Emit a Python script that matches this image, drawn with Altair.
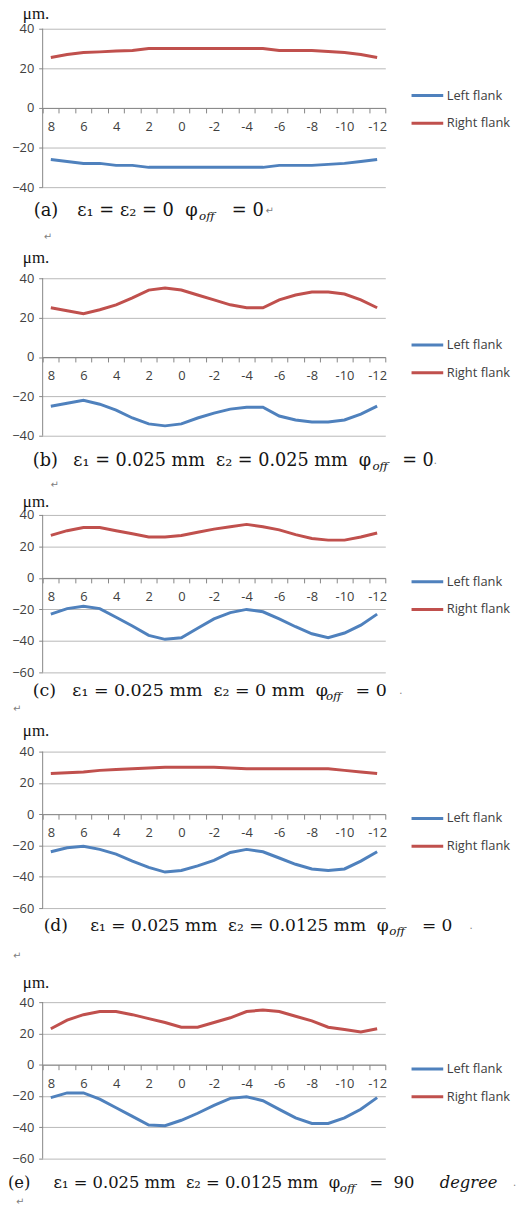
import altair as alt
import pandas as pd

positions = [8, 7, 6, 5, 4, 3, 2, 1, 0, -1, -2, -3, -4, -5, -6, -7, -8, -9, -10, -11, -12]
series_names = ["Left flank", "Right flank"]
series_colors = ["#4F81BD", "#C0504D"]

a_left = [-26, -27, -28, -28, -29, -29, -30, -30, -30, -30, -30, -30, -30, -30, -29, -29, -29, -28.5, -28, -27, -26]
a_right = [25.5, 27, 28, 28.3, 28.7, 29, 30, 30, 30, 30, 30, 30, 30, 30, 29, 29, 29, 28.5, 28, 27, 25.5]
b_left = [-25, -23.5, -22, -24, -27, -31, -34, -35, -34, -31, -28.5, -26.5, -25.5, -25.5, -30, -32, -33, -33, -32, -29, -25]
b_right = [25, 23.5, 22, 24, 26.5, 30, 34, 35, 34, 31.5, 29, 26.5, 25, 25, 29, 31.5, 33, 33, 32, 29, 25]
c_left = [-23, -19.5, -18, -19.5, -25, -30.5, -36.5, -39, -38, -32, -26, -22, -20, -21.5, -26, -31, -35.5, -38, -35, -30, -23]
c_right = [27, 30, 32, 32, 30, 28, 26, 26, 27, 29, 31, 32.5, 34, 32.5, 30.5, 27.5, 25, 24, 24, 26, 28.5]
d_left = [-24, -21.5, -20.5, -22.5, -25.5, -30, -34, -37, -36, -33, -29.5, -24.5, -22.5, -24, -28, -32, -35, -36, -35, -30, -24]
d_right = [26, 26.5, 27, 28, 28.5, 29, 29.5, 30, 30, 30, 30, 29.5, 29, 29, 29, 29, 29, 29, 28, 27, 26]
e_left = [-21, -18, -18, -22, -27.5, -33, -38.5, -39, -35.5, -31, -26, -21.5, -20.5, -23, -28.5, -34, -37.5, -37.5, -34, -28.5, -21]
e_right = [23, 28.5, 32, 34, 34, 32, 29.5, 27, 24, 24, 27, 30, 34, 35, 34, 31, 28, 24, 22.5, 21, 23]

y_ticks_a = [40, 20, 0, -20, -40]
y_ticks_c = [40, 20, 0, -20, -40, -60]

NB = "\u00a0"
# caption pieces: (text, kind)  n = normal, i = italic, s = subscript, p = paragraph mark
cap_a = [("(a)", "n"), ("ε₁ = ε₂ = 0" + NB + " φ", "n"), ("off", "s"), ("= 0", "n"), ("↵", "p")]
cap_b = [("(b)", "n"), ("ε₁ = 0.025 mm" + NB + " ε₂ = 0.025 mm" + NB + " φ", "n"), ("off", "s"), ("= 0", "n"), (".", "p")]
cap_c = [("(c)", "n"), ("ε₁ = 0.025 mm" + NB + " ε₂ = 0 mm" + NB + " φ", "n"), ("off", "s"), ("= 0", "n"), (".", "p")]
cap_d = [("(d)", "n"), ("ε₁ = 0.025 mm" + NB + " ε₂ = 0.0125 mm" + NB + " φ", "n"), ("off", "s"), ("= 0", "n"), (".", "p")]
cap_e = [("(e)", "n"), ("ε₁ = 0.025 mm" + NB + " ε₂ = 0.0125 mm" + NB + " φ", "n"), ("off", "s"), ("=" + NB + NB + "90", "n"), ("degree", "i"), (".", "p")]

AXIS_COLOR = "#868686"
GRID_COLOR = "#b8b8b8"
LABEL_COLOR = "#404040"
MARK_COLOR = "#808080"
SANS = "Open Sans"
SERIF = "DejaVu Serif"
PLOT_W = 346
PLOT_LEFT = 42  # page x of the plot's left edge in the reference


def txt(text, x, y, size=17, font=SERIF, style="normal", color="#141414", align="left"):
    return alt.Chart(pd.DataFrame({"t": [text]})).mark_text(
        align=align, baseline="middle", font=font, fontSize=size,
        fontStyle=style, color=color
    ).encode(x=alt.value(x), y=alt.value(y), text="t:N")


def caption_layers(pieces, xs, y, size):
    out = []
    for (t, kind), xp in zip(pieces, xs):
        x = xp - PLOT_LEFT
        if kind == "n":
            out.append(txt(t, x, y, size=size))
        elif kind == "i":
            out.append(txt(t, x, y, size=size, style="italic"))
        elif kind == "s":
            out.append(txt(t, x, y + 5, size=12, style="italic"))
        else:
            out.append(txt(t, x, y, size=10, font="DejaVu Sans", color=MARK_COLOR))
    return out


def panel(left, right, ymin, yvals, h, extra, cap, cap_x, cap_y, cap_size, mu_y, marks):
    px = h / (40 - ymin)
    ymax = 40 + extra / px
    H = h + extra
    df = pd.DataFrame({
        "pos": positions * 2,
        "value": left + right,
        "series": [series_names[0]] * len(positions) + [series_names[1]] * len(positions),
    })
    yscale = alt.Scale(domain=[ymin, ymax], nice=False, zero=False)
    yaxis = alt.Axis(title=None, values=yvals, grid=True, gridColor=GRID_COLOR,
                     domain=False, tickColor=AXIS_COLOR, tickSize=4,
                     labelFont=SANS, labelFontSize=13, labelColor=LABEL_COLOR,
                     labelPadding=5)
    xaxis = alt.Axis(title=None, orient="bottom", offset=-(0 - ymin) * px,
                     domainColor=AXIS_COLOR, tickColor=AXIS_COLOR, tickSize=5,
                     tickBand="extent", labelAngle=0, labelOverlap=False,
                     labelExpr="datum.value % 2 == 0 ? datum.label : ''",
                     labelFont=SANS, labelFontSize=13, labelColor=LABEL_COLOR,
                     labelPadding=8, grid=False)
    lines = alt.Chart(df).mark_line(strokeWidth=3).encode(
        x=alt.X("pos:O", sort=positions, bandPosition=0.5,
                scale=alt.Scale(type="band", paddingInner=0, paddingOuter=0),
                axis=xaxis),
        y=alt.Y("value:Q", scale=yscale, axis=yaxis),
        color=alt.Color("series:N", sort=series_names,
                        scale=alt.Scale(domain=series_names, range=series_colors),
                        legend=alt.Legend(orient="none", legendX=371, legendY=extra + 50,
                                          title=None, symbolType="stroke",
                                          symbolStrokeWidth=3, symbolSize=1024,
                                          labelFont=SANS, labelFontSize=13,
                                          labelColor=LABEL_COLOR, rowPadding=3,
                                          labelOffset=2)),
    )
    vaxis = alt.Chart(pd.DataFrame({"lo": [ymin], "hi": [40]})).mark_rule(
        color=AXIS_COLOR).encode(
        x=alt.value(0), y=alt.Y("lo:Q", scale=yscale, axis=yaxis), y2="hi:Q")
    layers = [vaxis, lines]
    layers += caption_layers(cap, cap_x, cap_y, cap_size)
    layers.append(txt("μm.", -20, mu_y, size=17, font="Liberation Serif"))
    for (t, xp, y) in marks:
        layers.append(txt(t, xp - PLOT_LEFT, y, size=10, font="DejaVu Sans", color=MARK_COLOR))
    return alt.layer(*layers).properties(width=PLOT_W, height=H)


pa = panel(a_left, a_right, -40, y_ticks_a, 160, 0, cap_a,
           [33, 77, 200, 233, 267], 184, 18, -15,
           [("↵", 43, 210)])
pb = panel(b_left, b_right, -40, y_ticks_a, 159, 16, cap_b,
           [32, 73, 375, 405, 437], 201, 17.8, -4, [])
pc = panel(c_left, c_right, -60, y_ticks_c, 159, 4, cap_c,
           [32, 72, 328, 358, 402], 182, 17.6, -9,
           [("↵", 50, -26), ("↵", 12, 200)])
pd_ = panel(d_left, d_right, -60, y_ticks_c, 158, 4, cap_d,
            [43, 90, 392, 425, 473], 180, 17.2, -17,
            [("↵", 12, 210)])
pe = panel(e_left, e_right, -60, y_ticks_c, 158, 19, cap_e,
           [7, 53, 342, 372, 443, 517], 202, 16.5, 0,
           [("↵", 15, 221)])

chart = alt.vconcat(pa, pb, pc, pd_, pe, spacing=76, bounds="flush").resolve_scale(
    x="independent", y="independent", color="independent"
).properties(padding={"top": -9, "left": 0, "right": 0, "bottom": 0}).configure_view(stroke=None)

chart.save("out.html", embed_options={"renderer": "svg", "actions": False})
